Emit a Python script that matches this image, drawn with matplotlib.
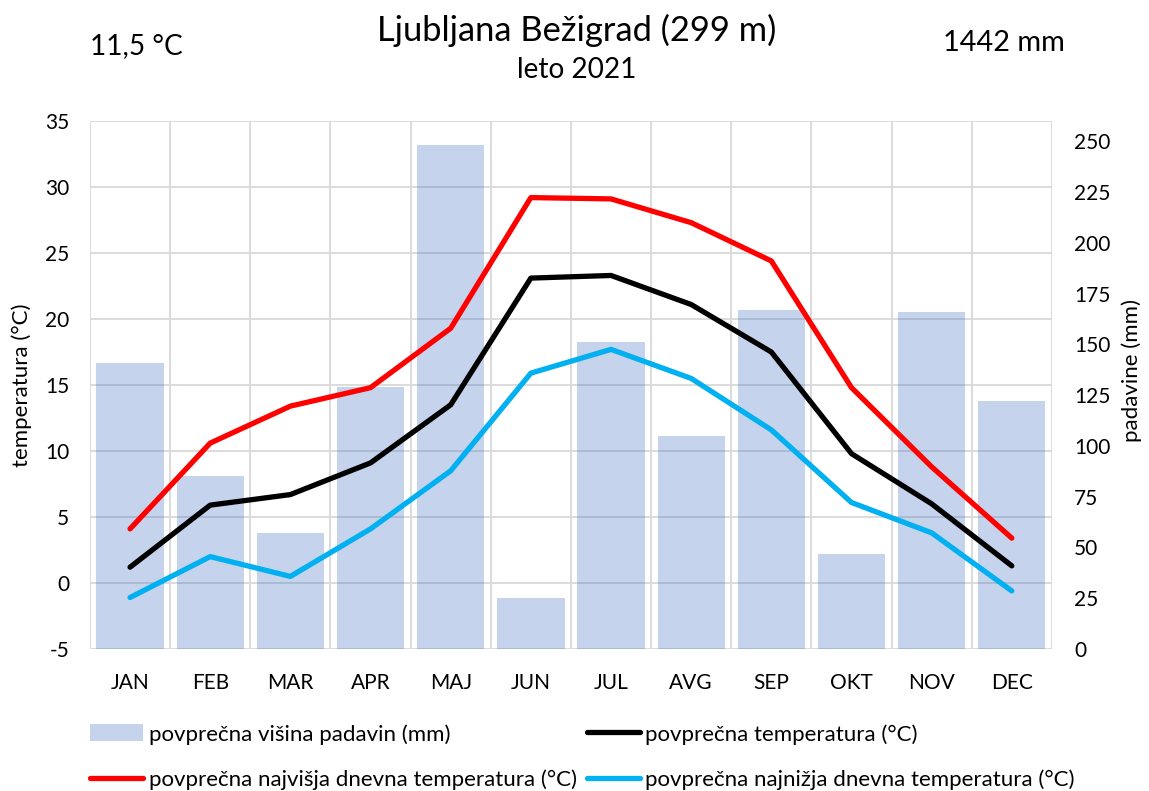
import numpy as np
import matplotlib
matplotlib.use("Agg")
import matplotlib.pyplot as plt
from matplotlib.ticker import MultipleLocator

plt.rcParams['font.family'] = ['Lato', 'DejaVu Sans']
plt.rcParams['axes.unicode_minus'] = False

# data

months = ["JAN", "FEB", "MAR", "APR", "MAJ", "JUN", "JUL", "AVG", "SEP", "OKT", "NOV", "DEC"]
padavine = [141, 85, 57, 129, 248, 25, 151, 105, 167, 47, 166, 122]
t_avg = [1.2, 5.9, 6.7, 9.1, 13.5, 23.1, 23.3, 21.1, 17.5, 9.8, 6.0, 1.3]
t_max = [4.1, 10.6, 13.4, 14.8, 19.3, 29.2, 29.1, 27.3, 24.4, 14.8, 8.8, 3.4]
t_min = [-1.1, 2.0, 0.5, 4.1, 8.5, 15.9, 17.7, 15.5, 11.6, 6.1, 3.8, -0.6]

x = np.arange(len(months))

# figure

fig = plt.figure(figsize=(11.49, 7.91), dpi=100)
ax = fig.add_axes([0.0783, 0.1795, 0.8372, 0.6675])
ax_p = ax.twinx()
ax_l = ax.twinx()

# grid axes (temperature scale, bottom)
ax.set_xlim(-0.5, 11.5)
ax.set_ylim(-5, 35)
ax.yaxis.set_major_locator(MultipleLocator(5))
ax.set_xticks(x)
ax.set_xticklabels(months)
ax.set_xticks(np.arange(-0.5, 12, 1), minor=True)
ax.grid(True, axis="y", which="major", color="#d9d9d9", lw=1.3)
ax.grid(True, axis="x", which="minor", color="#d9d9d9", lw=1.3)
ax.tick_params(which="both", length=0, labelsize=15, colors="black")
ax.tick_params(axis="x", pad=17)
ax.tick_params(axis="y", pad=15)
for s in ax.spines.values():
    s.set_visible(False)

# precipitation bars
ax_p.bar(x, padavine, width=0.84, color="#4472c4", alpha=0.31, lw=0,
         label="povprečna višina padavin (mm)")
ax_p.set_ylim(0, 260)
ax_p.yaxis.set_major_locator(MultipleLocator(25))
ax_p.tick_params(length=0, labelsize=15, pad=16)
for s in ax_p.spines.values():
    s.set_visible(False)

# temperature lines
ax_l.plot(x, t_max, color="#ff0000", lw=3.8, solid_capstyle="round",
          label="povprečna najvišja dnevna temperatura (°C)")
ax_l.plot(x, t_avg, color="black", lw=3.8, solid_capstyle="round",
          label="povprečna temperatura (°C)")
ax_l.plot(x, t_min, color="#00b0f0", lw=3.8, solid_capstyle="round",
          label="povprečna najnižja dnevna temperatura (°C)")
ax_l.set_ylim(-5, 35)
ax_l.set_yticks([])
for s in ax_l.spines.values():
    s.set_visible(False)

# axis titles
fig.text(22 / 1149, 1 - 385 / 791, "temperatura (°C)", rotation=90,
         ha="center", va="center", fontsize=16)
fig.text(1132 / 1149, 1 - 370 / 791, "padavine (mm)", rotation=90,
         ha="center", va="center", fontsize=16)

# titles
fig.text(0.502, 0.962, "Ljubljana Bežigrad (299 m)", ha="center", va="center", fontsize=24.8)
fig.text(0.502, 0.912, "leto 2021", ha="center", va="center", fontsize=20.2)
fig.text(0.078, 0.942, "11,5 °C", ha="left", va="center", fontsize=20.2)
fig.text(0.927, 0.946, "1442 mm", ha="right", va="center", fontsize=20.8)

# legend
hb, lb = ax_p.get_legend_handles_labels()
hl, ll = ax_l.get_legend_handles_labels()
handles = [hb[0], hl[0], hl[1], hl[2]]
labels = [lb[0], ll[0], ll[1], ll[2]]
fig.legend(handles, labels, ncol=2, loc="upper left", bbox_to_anchor=(0.061, 0.11),
           frameon=False, fontsize=16, handlelength=2.4, handleheight=0.8,
           handletextpad=0.23, columnspacing=0.45, labelspacing=1.12)

plt.savefig("out.png", dpi=100)
